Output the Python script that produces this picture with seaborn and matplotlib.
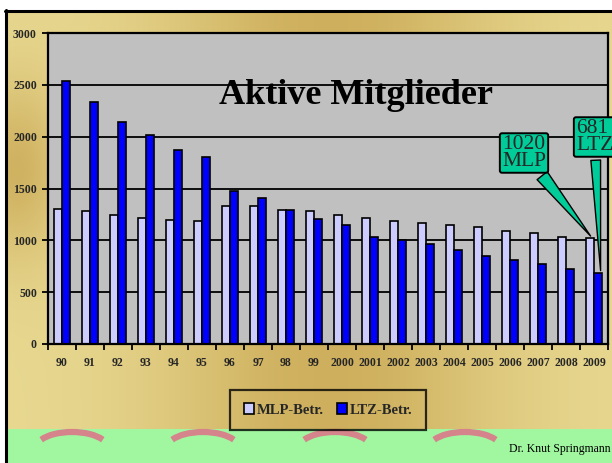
import numpy as np
import pandas as pd
import matplotlib
matplotlib.use("Agg")
import matplotlib.pyplot as plt
import seaborn as sns
from matplotlib.patches import Arc

# --- data ---
years = ["90", "91", "92", "93", "94", "95", "96", "97", "98", "99",
         "2000", "2001", "2002", "2003", "2004", "2005", "2006", "2007", "2008", "2009"]
mlp_members = [1300, 1280, 1240, 1220, 1200, 1185, 1335, 1335, 1295, 1280,
               1240, 1220, 1190, 1165, 1145, 1125, 1090, 1075, 1035, 1020]
ltz_members = [2540, 2335, 2145, 2020, 1875, 1800, 1480, 1405, 1295, 1205,
               1150, 1035, 1000, 965, 910, 850, 810, 775, 725, 681]
series_names = ["MLP-Betr.", "LTZ-Betr."]
series_colors = ["#CCCCFF", "#0000FF"]
y_ticks = [0, 500, 1000, 1500, 2000, 2500, 3000]

df = pd.DataFrame({
    "Jahr": years * 2,
    "Mitglieder": mlp_members + ltz_members,
    "Gruppe": [series_names[0]] * len(years) + [series_names[1]] * len(years),
})

sns.set_theme(style="white")
plt.rcParams["font.family"] = ["Liberation Serif", "DejaVu Serif"]

W, H = 612, 463
fig = plt.figure(figsize=(W / 100, H / 100), dpi=100)
fig.patch.set_facecolor("white")

# gold slide background (pixel coordinates)
bg = fig.add_axes([0, 0, 1, 1], zorder=-10)
xx, yy = np.meshgrid(np.arange(W), np.arange(H))
light = np.array([0.91, 0.85, 0.57])
dark = np.array([0.79, 0.66, 0.33])
t = 0.85 * np.exp(-((xx - 330) / 170.0) ** 2) + 0.75 * np.exp(-((xx - 15) / 50.0) ** 2) * np.exp(-((yy - 170) / 90.0) ** 2)
t = np.clip(t, 0, 1)[..., None]
img = light * (1 - t) + dark * t
img[yy >= 429] = [0.63, 0.97, 0.63]
img[yy < 10] = [1, 1, 1]
img[:, :5] = [1, 1, 1]
bg.imshow(img, extent=(0, W, H, 0), aspect="auto", interpolation="bilinear")
bg.plot([5, W], [11, 11], color="black", lw=2.2)
bg.plot([6, 6], [10, H], color="black", lw=2.2)
for cx in [72, 203, 335, 465]:
    bg.add_patch(Arc((cx, 448), 72, 32, theta1=195, theta2=345, color="#E07088", lw=4.5, alpha=0.85))
bg.set_xlim(0, W)
bg.set_ylim(H, 0)
bg.axis("off")

# main chart area
ax = fig.add_axes([48 / W, 1 - 344 / H, 560 / W, 311 / H])
sns.barplot(data=df, x="Jahr", y="Mitglieder", hue="Gruppe", palette=series_colors,
            saturation=1, width=0.6, edgecolor="black", linewidth=1.2, ax=ax)

ax.set_facecolor("#C0C0C0")
ax.set_ylim(0, 3000)
ax.set_xlim(-0.5, len(years) - 0.5)
ax.set_yticks(y_ticks)
ax.set_xticks(np.arange(-0.5, len(years)), minor=True)
ax.yaxis.grid(True, color="black", lw=1.3)
ax.set_axisbelow(True)
ax.set_xlabel("")
ax.set_ylabel("")
for s in ax.spines.values():
    s.set_color("black")
    s.set_linewidth(1.6)
ax.tick_params(axis="x", which="major", length=0, pad=9, labelsize=8.5)
ax.tick_params(axis="x", which="minor", length=4, width=1.3, color="black", direction="out", bottom=True)
ax.tick_params(axis="y", length=4, width=1.3, color="black", direction="out", left=True, labelsize=8.5, pad=4)
for lbl in ax.get_xticklabels() + ax.get_yticklabels():
    lbl.set_fontweight("bold")

ax.text((356 - 48) / 560, (344 - 95) / 311, "Aktive Mitglieder", transform=ax.transAxes,
        ha="center", va="center", fontsize=26, fontweight="bold", color="black")

# callouts
green = "#00CC99"
p_mlp = ax.containers[0][-1]
p_ltz = ax.containers[1][-1]
ax.annotate(f"{mlp_members[-1]}\nMLP", xy=(p_mlp.get_x() + p_mlp.get_width() * 0.8, p_mlp.get_height()),
            xytext=((524 - 48) / 560, (344 - 153) / 311), textcoords="axes fraction",
            ha="center", va="center", fontsize=15.5, linespacing=0.8,
            bbox=dict(boxstyle="round,pad=0.1", fc=green, ec="black", lw=1.4),
            arrowprops=dict(arrowstyle="wedge,tail_width=0.6,shrink_factor=0.5", fc=green, ec="black", lw=1),
            annotation_clip=False)
ax.annotate(f"{ltz_members[-1]}\nLTZ", xy=(p_ltz.get_x() + p_ltz.get_width() * 0.8, p_ltz.get_height()),
            xytext=((576 - 48) / 560, (344 - 137) / 311), textcoords="axes fraction",
            ha="left", va="center", fontsize=15.5, linespacing=0.8,
            bbox=dict(boxstyle="round,pad=0.1", fc=green, ec="black", lw=1.4),
            arrowprops=dict(arrowstyle="wedge,tail_width=0.45,shrink_factor=0.5", fc=green, ec="black", lw=1),
            annotation_clip=False)

# legend
handles, labels = ax.get_legend_handles_labels()
ax.get_legend().remove()
leg = fig.legend(handles, labels, loc="center", bbox_to_anchor=(328 / W, 1 - 410 / H),
                 ncol=2, frameon=True, fancybox=False, facecolor="none", edgecolor="black",
                 handlelength=0.7, handleheight=0.7, handletextpad=0.2, columnspacing=0.9,
                 borderpad=0.9, borderaxespad=0, prop={"weight": "bold", "size": 10.5})
leg.get_frame().set_linewidth(1.6)

fig.text(611 / W, 1 - 449 / H, "Dr. Knut Springmann", ha="right", va="center", fontsize=8.5, color="black")

fig.savefig("out.png", dpi=100)
